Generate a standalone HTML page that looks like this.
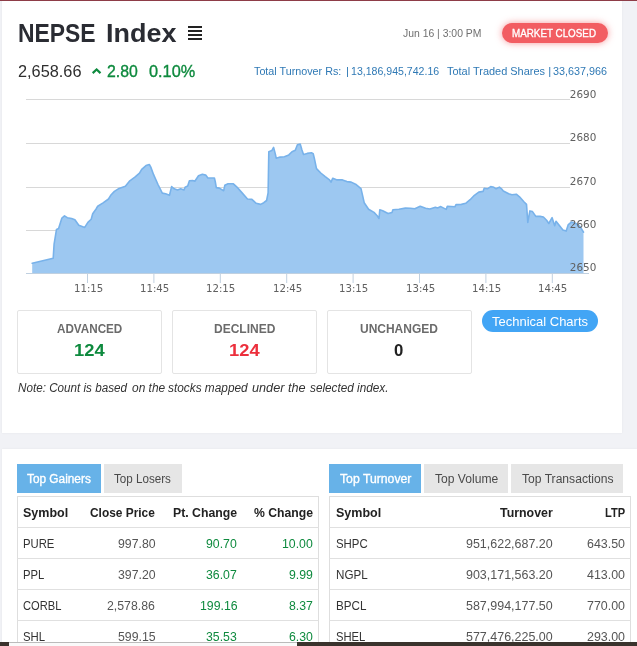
<!DOCTYPE html>
<html lang="en"><head><meta charset="utf-8"><title>NEPSE Index</title>
<style>
html,body{margin:0;padding:0;}
body{width:637px;height:646px;overflow:hidden;position:relative;background:#f1f2f6;font-family:"Liberation Sans",sans-serif;}
.a{position:absolute;}
.t{position:absolute;white-space:nowrap;transform-origin:0 0;}
</style></head><body>
<div class="a" style="left:0px;top:0px;width:637px;height:646px;background:#f1f2f6;"></div>
<div class="a" style="left:2px;top:1px;width:620px;height:432px;background:#fff;box-shadow:0 0 2px rgba(0,0,0,.06);"></div>
<div class="a" style="left:0px;top:0px;width:637px;height:1px;background:#8e3d48;"></div>
<div class="a" style="left:2px;top:449px;width:635px;height:197px;background:#fff;box-shadow:0 0 2px rgba(0,0,0,.06);"></div>
<span class="t " style="left:18.30px;top:19px;font-size:25px;line-height:28px;transform:scaleX(0.9156);font-weight:bold;color:#2a2c33;">NEPSE</span>
<span class="t " style="left:105.50px;top:19px;font-size:25px;line-height:28px;transform:scaleX(1.0781);font-weight:bold;color:#2a2c33;">Index</span>
<div class="a" style="left:187.6px;top:26px;width:14.200000000000017px;height:2px;background:#222;"></div>
<div class="a" style="left:187.6px;top:30px;width:14.200000000000017px;height:2px;background:#222;"></div>
<div class="a" style="left:187.6px;top:34px;width:14.200000000000017px;height:2px;background:#222;"></div>
<div class="a" style="left:187.6px;top:38px;width:14.200000000000017px;height:2px;background:#222;"></div>
<span class="t " style="left:17.80px;top:62px;font-size:16.5px;line-height:18px;transform:scaleX(0.9886);color:#2e2e2e;">2,658.66</span>
<svg class="a" style="left:90px;top:64px" width="16" height="12" viewBox="0 0 16 12"><path d="M2.7 9.1 L6.6 5.5 L10.5 9.1" fill="none" stroke="#0e8a3e" stroke-width="2.2"/></svg>
<span class="t " style="left:106.50px;top:62px;font-size:16.5px;line-height:18px;transform:scaleX(0.9592);color:#0e8a3e;-webkit-text-stroke:0.35px currentColor;">2.80</span>
<span class="t " style="left:149.10px;top:62px;font-size:16.5px;line-height:18px;transform:scaleX(0.9877);color:#0e8a3e;-webkit-text-stroke:0.35px currentColor;">0.10%</span>
<span class="t " style="left:403.20px;top:27px;font-size:11.5px;line-height:12px;transform:scaleX(0.9039);color:#707070;">Jun 16 | 3:00 PM</span>
<div class="a" style="left:501.5px;top:23px;width:106.0px;height:20px;background:#f25d62;border-radius:10px;box-shadow:0 0 7px rgba(242,93,98,.65);"></div>
<span class="t " style="left:512.20px;top:27px;font-size:11.5px;line-height:12px;transform:scaleX(0.8554);color:#fff;-webkit-text-stroke:0.35px currentColor;">MARKET CLOSED</span>
<span class="t " style="left:253.50px;top:65px;font-size:11.5px;line-height:12px;transform:scaleX(0.9356);color:#2f79b5;">Total Turnover Rs:</span>
<span class="t " style="left:345.90px;top:65px;font-size:11.5px;line-height:12px;color:#2f79b5;">|</span>
<span class="t " style="left:350.80px;top:65px;font-size:11.5px;line-height:12px;transform:scaleX(0.9195);color:#2f79b5;">13,186,945,742.16</span>
<span class="t " style="left:446.90px;top:65px;font-size:11.5px;line-height:12px;transform:scaleX(0.9521);color:#2f79b5;">Total Traded Shares</span>
<span class="t " style="left:548.20px;top:65px;font-size:11.5px;line-height:12px;color:#2f79b5;">|</span>
<span class="t " style="left:552.70px;top:65px;font-size:11.5px;line-height:12px;transform:scaleX(0.9382);color:#2f79b5;">33,637,966</span>
<svg class="a" style="left:0;top:85px" width="622" height="215" viewBox="0 85 622 215"><path d="M26 99.5 H570" stroke="#d8d8d8" stroke-width="1"/><path d="M26 143.5 H570" stroke="#d8d8d8" stroke-width="1"/><path d="M26 187.5 H570" stroke="#d8d8d8" stroke-width="1"/><path d="M26 230.5 H570" stroke="#d8d8d8" stroke-width="1"/><path d="M32.2,263.2 L53.2,258.2 L54.1,244.1 L56.5,229.4 L58.6,228.5 L61.9,218.1 L64.5,215.9 L67.3,217.7 L71.6,218.5 L74.9,219.8 L78.8,225.2 L84.7,227.4 L87.9,222.4 L91.2,219.2 L92.7,213.8 L96.1,209.0 L97.7,206.2 L103.1,202.9 L108.5,199.0 L110.7,195.3 L114.4,191.4 L118.3,188.8 L125.4,186.2 L129.8,180.8 L135.2,176.9 L139.5,173.2 L141.7,169.3 L146.0,165.6 L149.3,164.5 L150.8,167.1 L153.6,174.7 L158.0,184.5 L162.3,193.1 L165.6,193.8 L169.5,195.3 L171.6,186.6 L174.2,188.8 L177.5,189.9 L180.7,188.8 L184.0,189.9 L185.1,187.3 L187.7,186.0 L189.4,180.8 L192.7,180.6 L194.8,181.2 L198.5,175.8 L202.4,174.3 L205.7,175.1 L207.9,178.0 L214.4,178.0 L215.4,182.3 L216.3,187.6 L219.3,188.1 L223.7,190.7 L224.8,185.3 L228.0,183.8 L233.4,183.8 L236.7,186.8 L242.1,192.9 L247.5,199.0 L251.9,199.4 L256.2,203.3 L260.6,204.4 L263.8,202.7 L266.6,200.5 L268.1,192.9 L268.8,151.7 L271.8,150.6 L273.6,147.4 L275.3,153.9 L276.2,158.2 L280.1,157.1 L284.4,156.7 L288.8,154.9 L292.0,151.7 L295.3,150.2 L297.4,144.8 L300.2,144.1 L301.8,149.5 L303.5,154.5 L307.2,153.4 L311.5,152.8 L313.2,153.6 L314.3,158.2 L316.5,168.6 L320.8,173.0 L325.2,176.6 L329.5,179.9 L331.0,182.1 L332.8,178.2 L337.1,179.9 L342.5,179.9 L346.9,181.6 L351.2,182.1 L355.6,184.2 L361.0,188.6 L362.5,195.1 L364.2,202.7 L368.6,209.2 L374.0,212.4 L377.2,215.7 L379.0,218.5 L379.8,209.8 L382.7,210.7 L388.1,213.5 L392.0,212.4 L392.9,209.8 L398.9,209.2 L405.4,208.1 L410.4,208.3 L414.8,208.8 L420.2,206.2 L425.6,208.3 L429.9,209.0 L435.4,207.2 L437.5,207.9 L440.8,206.6 L446.2,209.4 L447.3,206.2 L454.9,206.8 L456.0,204.6 L461.4,204.4 L465.7,203.3 L470.1,199.7 L474.4,195.3 L478.8,192.1 L483.1,191.4 L484.2,188.2 L487.4,188.8 L490.7,186.6 L493.9,187.3 L496.1,188.8 L499.4,187.1 L501.5,188.8 L503.3,191.0 L508.7,193.8 L511.9,194.7 L516.3,194.2 L519.5,196.8 L523.9,201.8 L526.5,204.4 L527.8,222.4 L529.9,210.9 L532.5,211.6 L535.8,216.4 L540.1,216.4 L543.4,217.0 L546.6,220.3 L548.8,223.5 L552.1,217.7 L554.7,225.7 L556.0,221.3 L558.6,224.6 L562.9,230.0 L566.2,231.1 L568.3,224.6 L571.6,222.0 L575.9,223.5 L580.3,226.8 L583.5,232.2 L583.5,273 L32.2,273 Z" fill="#9dc8f1"/><polyline points="32.2,263.2 53.2,258.2 54.1,244.1 56.5,229.4 58.6,228.5 61.9,218.1 64.5,215.9 67.3,217.7 71.6,218.5 74.9,219.8 78.8,225.2 84.7,227.4 87.9,222.4 91.2,219.2 92.7,213.8 96.1,209.0 97.7,206.2 103.1,202.9 108.5,199.0 110.7,195.3 114.4,191.4 118.3,188.8 125.4,186.2 129.8,180.8 135.2,176.9 139.5,173.2 141.7,169.3 146.0,165.6 149.3,164.5 150.8,167.1 153.6,174.7 158.0,184.5 162.3,193.1 165.6,193.8 169.5,195.3 171.6,186.6 174.2,188.8 177.5,189.9 180.7,188.8 184.0,189.9 185.1,187.3 187.7,186.0 189.4,180.8 192.7,180.6 194.8,181.2 198.5,175.8 202.4,174.3 205.7,175.1 207.9,178.0 214.4,178.0 215.4,182.3 216.3,187.6 219.3,188.1 223.7,190.7 224.8,185.3 228.0,183.8 233.4,183.8 236.7,186.8 242.1,192.9 247.5,199.0 251.9,199.4 256.2,203.3 260.6,204.4 263.8,202.7 266.6,200.5 268.1,192.9 268.8,151.7 271.8,150.6 273.6,147.4 275.3,153.9 276.2,158.2 280.1,157.1 284.4,156.7 288.8,154.9 292.0,151.7 295.3,150.2 297.4,144.8 300.2,144.1 301.8,149.5 303.5,154.5 307.2,153.4 311.5,152.8 313.2,153.6 314.3,158.2 316.5,168.6 320.8,173.0 325.2,176.6 329.5,179.9 331.0,182.1 332.8,178.2 337.1,179.9 342.5,179.9 346.9,181.6 351.2,182.1 355.6,184.2 361.0,188.6 362.5,195.1 364.2,202.7 368.6,209.2 374.0,212.4 377.2,215.7 379.0,218.5 379.8,209.8 382.7,210.7 388.1,213.5 392.0,212.4 392.9,209.8 398.9,209.2 405.4,208.1 410.4,208.3 414.8,208.8 420.2,206.2 425.6,208.3 429.9,209.0 435.4,207.2 437.5,207.9 440.8,206.6 446.2,209.4 447.3,206.2 454.9,206.8 456.0,204.6 461.4,204.4 465.7,203.3 470.1,199.7 474.4,195.3 478.8,192.1 483.1,191.4 484.2,188.2 487.4,188.8 490.7,186.6 493.9,187.3 496.1,188.8 499.4,187.1 501.5,188.8 503.3,191.0 508.7,193.8 511.9,194.7 516.3,194.2 519.5,196.8 523.9,201.8 526.5,204.4 527.8,222.4 529.9,210.9 532.5,211.6 535.8,216.4 540.1,216.4 543.4,217.0 546.6,220.3 548.8,223.5 552.1,217.7 554.7,225.7 556.0,221.3 558.6,224.6 562.9,230.0 566.2,231.1 568.3,224.6 571.6,222.0 575.9,223.5 580.3,226.8 583.5,232.2" fill="none" stroke="#78b2ea" stroke-width="1.6" stroke-linejoin="round" stroke-linecap="round"/><path d="M26 273.5 H589" stroke="#c0d0e0" stroke-width="1"/><path d="M87.5 274 V283" stroke="#c0d0e0" stroke-width="1"/><path d="M153.9 274 V283" stroke="#c0d0e0" stroke-width="1"/><path d="M220.3 274 V283" stroke="#c0d0e0" stroke-width="1"/><path d="M286.7 274 V283" stroke="#c0d0e0" stroke-width="1"/><path d="M353.1 274 V283" stroke="#c0d0e0" stroke-width="1"/><path d="M419.5 274 V283" stroke="#c0d0e0" stroke-width="1"/><path d="M485.9 274 V283" stroke="#c0d0e0" stroke-width="1"/><path d="M552.3 274 V283" stroke="#c0d0e0" stroke-width="1"/></svg>
<span class="t " style="left:569.80px;top:88px;font-size:10.4px;line-height:12px;font-family:'DejaVu Sans',sans-serif;color:#606060;">2690</span>
<span class="t " style="left:569.80px;top:131px;font-size:10.4px;line-height:12px;font-family:'DejaVu Sans',sans-serif;color:#606060;">2680</span>
<span class="t " style="left:569.80px;top:175px;font-size:10.4px;line-height:12px;font-family:'DejaVu Sans',sans-serif;color:#606060;">2670</span>
<span class="t " style="left:569.80px;top:218px;font-size:10.4px;line-height:12px;font-family:'DejaVu Sans',sans-serif;color:#606060;">2660</span>
<span class="t " style="left:569.80px;top:261px;font-size:10.4px;line-height:12px;font-family:'DejaVu Sans',sans-serif;color:#606060;">2650</span>
<span class="t " style="left:73.60px;top:282px;font-size:10.4px;line-height:12px;transform:scaleX(0.9776);font-family:'DejaVu Sans',sans-serif;color:#606060;">11:15</span>
<span class="t " style="left:140.00px;top:282px;font-size:10.4px;line-height:12px;transform:scaleX(0.9776);font-family:'DejaVu Sans',sans-serif;color:#606060;">11:45</span>
<span class="t " style="left:206.40px;top:282px;font-size:10.4px;line-height:12px;transform:scaleX(0.9776);font-family:'DejaVu Sans',sans-serif;color:#606060;">12:15</span>
<span class="t " style="left:272.80px;top:282px;font-size:10.4px;line-height:12px;transform:scaleX(0.9776);font-family:'DejaVu Sans',sans-serif;color:#606060;">12:45</span>
<span class="t " style="left:339.20px;top:282px;font-size:10.4px;line-height:12px;transform:scaleX(0.9776);font-family:'DejaVu Sans',sans-serif;color:#606060;">13:15</span>
<span class="t " style="left:405.60px;top:282px;font-size:10.4px;line-height:12px;transform:scaleX(0.9776);font-family:'DejaVu Sans',sans-serif;color:#606060;">13:45</span>
<span class="t " style="left:472.00px;top:282px;font-size:10.4px;line-height:12px;transform:scaleX(0.9776);font-family:'DejaVu Sans',sans-serif;color:#606060;">14:15</span>
<span class="t " style="left:538.40px;top:282px;font-size:10.4px;line-height:12px;transform:scaleX(0.9776);font-family:'DejaVu Sans',sans-serif;color:#606060;">14:45</span>
<div class="a" style="left:17px;top:310px;width:145px;height:64px;border:1px solid #e4e4e4;box-sizing:border-box;border-radius:2px;"></div>
<span class="t " style="left:56.50px;top:321px;font-size:13px;line-height:15px;transform:scaleX(0.8981);font-weight:bold;color:#6b6b6b;">ADVANCED</span>
<span class="t " style="left:74.10px;top:341px;font-size:17px;line-height:19px;transform:scaleX(1.0791);font-weight:bold;color:#0e8a3e;">124</span>
<div class="a" style="left:172px;top:310px;width:145px;height:64px;border:1px solid #e4e4e4;box-sizing:border-box;border-radius:2px;"></div>
<span class="t " style="left:213.50px;top:321px;font-size:13px;line-height:15px;transform:scaleX(0.9226);font-weight:bold;color:#6b6b6b;">DECLINED</span>
<span class="t " style="left:229.10px;top:341px;font-size:17px;line-height:19px;transform:scaleX(1.0791);font-weight:bold;color:#ec2f3c;">124</span>
<div class="a" style="left:327px;top:310px;width:145px;height:64px;border:1px solid #e4e4e4;box-sizing:border-box;border-radius:2px;"></div>
<span class="t " style="left:360.20px;top:321px;font-size:13px;line-height:15px;transform:scaleX(0.9219);font-weight:bold;color:#6b6b6b;">UNCHANGED</span>
<span class="t " style="left:394.10px;top:341px;font-size:17px;line-height:19px;transform:scaleX(0.9839);font-weight:bold;color:#222;">0</span>
<div class="a" style="left:482px;top:310px;width:116px;height:22px;background:#42a5f5;border-radius:11px;"></div>
<span class="t " style="left:492.20px;top:314px;font-size:13.5px;line-height:15px;transform:scaleX(0.9620);color:#fff;">Technical Charts</span>
<span class="t " style="left:17.90px;top:381px;font-size:12px;line-height:14px;transform:scaleX(0.9725);font-style:italic;color:#333;">Note: Count is based</span>
<span class="t " style="left:132.20px;top:381px;font-size:12px;line-height:14px;transform:scaleX(0.9952);font-style:italic;color:#333;">on the</span>
<span class="t " style="left:168.30px;top:381px;font-size:12px;line-height:14px;transform:scaleX(0.9874);font-style:italic;color:#333;">stocks mapped</span>
<span class="t " style="left:252.10px;top:381px;font-size:12px;line-height:14px;transform:scaleX(1.0569);font-style:italic;color:#333;">under the</span>
<span class="t " style="left:309.70px;top:381px;font-size:12px;line-height:14px;transform:scaleX(0.9806);font-style:italic;color:#333;">selected index.</span>
<div class="a" style="left:17px;top:464px;width:84px;height:29px;background:#67b2e8;"></div>
<span class="t " style="left:27.10px;top:472px;font-size:12.5px;line-height:14px;transform:scaleX(0.9466);color:#fff;-webkit-text-stroke:0.35px currentColor;">Top Gainers</span>
<div class="a" style="left:104.3px;top:464px;width:77.7px;height:29px;background:#e6e6e6;"></div>
<span class="t " style="left:114.30px;top:472px;font-size:12.5px;line-height:14px;transform:scaleX(0.9305);color:#4a4a4a;">Top Losers</span>
<div class="a" style="left:329px;top:464px;width:92px;height:29px;background:#67b2e8;"></div>
<span class="t " style="left:339.60px;top:472px;font-size:12.5px;line-height:14px;transform:scaleX(0.9788);color:#fff;-webkit-text-stroke:0.35px currentColor;">Top Turnover</span>
<div class="a" style="left:424.4px;top:464px;width:83.40000000000003px;height:29px;background:#e6e6e6;"></div>
<span class="t " style="left:434.50px;top:472px;font-size:12.5px;line-height:14px;transform:scaleX(0.9675);color:#4a4a4a;">Top Volume</span>
<div class="a" style="left:511.3px;top:464px;width:111.40000000000003px;height:29px;background:#e6e6e6;"></div>
<span class="t " style="left:521.70px;top:472px;font-size:12.5px;line-height:14px;transform:scaleX(0.9683);color:#4a4a4a;">Top Transactions</span>
<div class="a" style="left:17px;top:496px;width:302px;height:164px;border:1px solid #dedede;box-sizing:border-box;"></div>
<div class="a" style="left:17px;top:527.0px;width:302px;height:1.0px;background:#e0e0e0;"></div>
<div class="a" style="left:17px;top:558.0px;width:302px;height:1.0px;background:#e0e0e0;"></div>
<div class="a" style="left:17px;top:589.0px;width:302px;height:1.0px;background:#e0e0e0;"></div>
<div class="a" style="left:17px;top:620.0px;width:302px;height:1.0px;background:#e0e0e0;"></div>
<div class="a" style="left:329px;top:496px;width:302px;height:164px;border:1px solid #dedede;box-sizing:border-box;"></div>
<div class="a" style="left:329px;top:527.0px;width:302px;height:1.0px;background:#e0e0e0;"></div>
<div class="a" style="left:329px;top:558.0px;width:302px;height:1.0px;background:#e0e0e0;"></div>
<div class="a" style="left:329px;top:589.0px;width:302px;height:1.0px;background:#e0e0e0;"></div>
<div class="a" style="left:329px;top:620.0px;width:302px;height:1.0px;background:#e0e0e0;"></div>
<span class="t " style="left:23.10px;top:505px;font-size:13.5px;line-height:15px;transform:scaleX(0.9270);font-weight:bold;color:#222;">Symbol</span>
<span class="t " style="left:90.40px;top:505px;font-size:13.5px;line-height:15px;transform:scaleX(0.8812);font-weight:bold;color:#222;">Close Price</span>
<span class="t " style="left:172.80px;top:505px;font-size:13.5px;line-height:15px;transform:scaleX(0.9091);font-weight:bold;color:#222;">Pt. Change</span>
<span class="t " style="left:253.90px;top:505px;font-size:13.5px;line-height:15px;transform:scaleX(0.9041);font-weight:bold;color:#222;">% Change</span>
<span class="t " style="left:335.60px;top:505px;font-size:13.5px;line-height:15px;transform:scaleX(0.9270);font-weight:bold;color:#222;">Symbol</span>
<span class="t " style="left:499.60px;top:505px;font-size:13.5px;line-height:15px;transform:scaleX(0.9181);font-weight:bold;color:#222;">Turnover</span>
<span class="t " style="left:605.10px;top:505px;font-size:13.5px;line-height:15px;transform:scaleX(0.8208);font-weight:bold;color:#222;">LTP</span>
<span class="t " style="left:23.10px;top:536px;font-size:13px;line-height:15px;transform:scaleX(0.8695);color:#333;">PURE</span>
<span class="t " style="left:117.62px;top:536px;font-size:13px;line-height:15px;transform:scaleX(0.9450);color:#555;">997.80</span>
<span class="t " style="left:206.36px;top:536px;font-size:13px;line-height:15px;transform:scaleX(0.9450);color:#0e8a3e;">90.70</span>
<span class="t " style="left:282.16px;top:536px;font-size:13px;line-height:15px;transform:scaleX(0.9450);color:#0e8a3e;">10.00</span>
<span class="t " style="left:23.10px;top:567px;font-size:13px;line-height:15px;transform:scaleX(0.8669);color:#333;">PPL</span>
<span class="t " style="left:117.62px;top:567px;font-size:13px;line-height:15px;transform:scaleX(0.9450);color:#555;">397.20</span>
<span class="t " style="left:206.36px;top:567px;font-size:13px;line-height:15px;transform:scaleX(0.9450);color:#0e8a3e;">36.07</span>
<span class="t " style="left:288.99px;top:567px;font-size:13px;line-height:15px;transform:scaleX(0.9450);color:#0e8a3e;">9.99</span>
<span class="t " style="left:23.10px;top:598px;font-size:13px;line-height:15px;transform:scaleX(0.8574);color:#333;">CORBL</span>
<span class="t " style="left:107.37px;top:598px;font-size:13px;line-height:15px;transform:scaleX(0.9450);color:#555;">2,578.86</span>
<span class="t " style="left:199.52px;top:598px;font-size:13px;line-height:15px;transform:scaleX(0.9450);color:#0e8a3e;">199.16</span>
<span class="t " style="left:288.99px;top:598px;font-size:13px;line-height:15px;transform:scaleX(0.9450);color:#0e8a3e;">8.37</span>
<span class="t " style="left:23.10px;top:629px;font-size:13px;line-height:15px;transform:scaleX(0.8740);color:#333;">SHL</span>
<span class="t " style="left:117.62px;top:629px;font-size:13px;line-height:15px;transform:scaleX(0.9450);color:#555;">599.15</span>
<span class="t " style="left:206.36px;top:629px;font-size:13px;line-height:15px;transform:scaleX(0.9450);color:#0e8a3e;">35.53</span>
<span class="t " style="left:288.99px;top:629px;font-size:13px;line-height:15px;transform:scaleX(0.9450);color:#0e8a3e;">6.30</span>
<span class="t " style="left:335.50px;top:536px;font-size:13px;line-height:15px;transform:scaleX(0.8778);color:#333;">SHPC</span>
<span class="t " style="left:466.20px;top:536px;font-size:13px;line-height:15px;transform:scaleX(0.9595);color:#555;">951,622,687.20</span>
<span class="t " style="left:587.10px;top:536px;font-size:13px;line-height:15px;transform:scaleX(0.9556);color:#555;">643.50</span>
<span class="t " style="left:335.50px;top:567px;font-size:13px;line-height:15px;transform:scaleX(0.8955);color:#333;">NGPL</span>
<span class="t " style="left:466.20px;top:567px;font-size:13px;line-height:15px;transform:scaleX(0.9595);color:#555;">903,171,563.20</span>
<span class="t " style="left:587.10px;top:567px;font-size:13px;line-height:15px;transform:scaleX(0.9556);color:#555;">413.00</span>
<span class="t " style="left:335.50px;top:598px;font-size:13px;line-height:15px;transform:scaleX(0.8953);color:#333;">BPCL</span>
<span class="t " style="left:466.20px;top:598px;font-size:13px;line-height:15px;transform:scaleX(0.9595);color:#555;">587,994,177.50</span>
<span class="t " style="left:587.10px;top:598px;font-size:13px;line-height:15px;transform:scaleX(0.9556);color:#555;">770.00</span>
<span class="t " style="left:335.50px;top:629px;font-size:13px;line-height:15px;transform:scaleX(0.8629);color:#333;">SHEL</span>
<span class="t " style="left:466.20px;top:629px;font-size:13px;line-height:15px;transform:scaleX(0.9595);color:#555;">577,476,225.00</span>
<span class="t " style="left:587.10px;top:629px;font-size:13px;line-height:15px;transform:scaleX(0.9556);color:#555;">293.00</span>
<div class="a" style="left:0px;top:642px;width:637px;height:4px;background:#3a332d;"></div>
<div class="a" style="left:9px;top:642px;width:288px;height:4px;background:#fafafa;border-top:1px solid #bbb;box-sizing:border-box;"></div>
</body></html>
